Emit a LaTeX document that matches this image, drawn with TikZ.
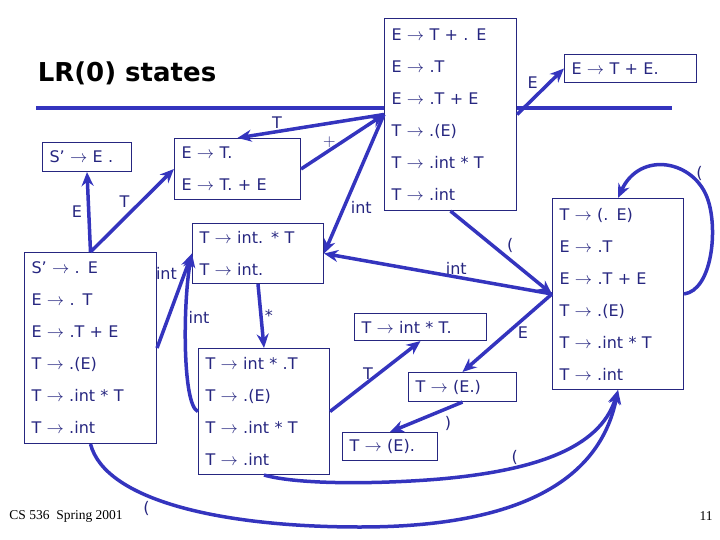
\documentclass[tikz,border=0pt]{standalone}
\usepackage{xcolor}
\usepackage{fontspec}
\usepackage{tikz}
\usetikzlibrary{arrows.meta, positioning}
\setmainfont{DejaVu Sans}
\newfontfamily\slidefoot{Liberation Serif}
\definecolor{myblue}{RGB}{52,52,190}
\definecolor{mynavy}{RGB}{38,38,128}
\newcommand{\yields}{$\rightarrow$}
\tikzset{
  state/.style={rectangle, draw=mynavy, text=mynavy, align=left,
    inner xsep=7pt, inner ysep=0pt, line width=1.1pt,
    font=\fontsize{16}{32}\selectfont},
  lbl/.style={text=mynavy, inner sep=1pt, font=\fontsize{16}{19}\selectfont},
  arrow/.style={-{Stealth[length=14pt,width=12pt]}, line width=3.5pt, color=myblue},
  rule/.style={line width=4pt, color=myblue}
}

\begin{document}
\begin{tikzpicture}[x=1pt, y=-1pt]
  \useasboundingbox (0,0) rectangle (720,540);

  % Title and rule under it
  \node[font=\fontsize{26}{30}\selectfont\bfseries] (title) at (127,73) {LR(0) states};
  \draw[rule] (36,108) -- (384,108);
  \draw[rule] (517,108) -- (672,108);

  % States
  \node[state, text width=118pt, minimum height=192pt] (tc) at (450.5,114.5)
    {E \yields{} T + . E\\ E \yields{} .T\\ E \yields{} .T + E\\ T \yields{} .(E)\\ T \yields{} .int * T\\ T \yields{} .int};
  \node[state, text width=118pt, minimum height=28pt] (ett) at (630.5,68.5) {E \yields{} T + E.};
  \node[state, text width=75pt, minimum height=29pt] (sacc) at (87,157) {S’ \yields{} E .};
  \node[state, text width=112pt, minimum height=61pt] (et) at (237.5,169) {E \yields{} T.\\ E \yields{} T. + E};
  \node[state, text width=117pt, minimum height=60pt] (ia) at (258,253.5) {T \yields{} int. * T\\ T \yields{} int.};
  \node[state, text width=118pt, minimum height=191pt] (st) at (90.5,348)
    {S’ \yields{} . E\\ E \yields{} . T\\ E \yields{} .T + E\\ T \yields{} .(E)\\ T \yields{} .int * T\\ T \yields{} .int};
  \node[state, text width=117pt, minimum height=126pt] (ib) at (264,411.5)
    {T \yields{} int * .T\\ T \yields{} .(E)\\ T \yields{} .int * T\\ T \yields{} .int};
  \node[state, text width=118pt, minimum height=27pt] (ic) at (420.5,327) {T \yields{} int * T.};
  \node[state, text width=94pt, minimum height=29pt] (pb) at (462.5,387) {T \yields{} (E.)};
  \node[state, text width=81pt, minimum height=28pt] (pc) at (390,446.5) {T \yields{} (E).};
  \node[state, text width=117pt, minimum height=191pt] (pa) at (618,294)
    {T \yields{} (. E)\\ E \yields{} .T\\ E \yields{} .T + E\\ T \yields{} .(E)\\ T \yields{} .int * T\\ T \yields{} .int};

  % Transitions
  \draw[arrow] (st.north) -- node[lbl, left=4pt] {E} (sacc.south);
  \draw[arrow] (st.north) -- node[lbl, above left=0pt] {T} (et.west);
  \draw[arrow] (tc.west) -- node[lbl, pos=0.73, above] {T} (et.north);
  \draw[arrow] (et.east) -- node[lbl, pos=0.34, above] {$+$} (tc.west);
  \draw[arrow] (tc.west) -- node[lbl, pos=0.665, right=4pt] {int} (ia.east);
  \draw[arrow] (tc.east) -- node[lbl, above left=0pt] {E} (ett.west);
  \draw[arrow] (pa.west) -- node[lbl, pos=0.42, above] {int} (ia.east);
  \draw[arrow] (tc.south) -- node[lbl, pos=0.53, above right=0pt] {(} (pa.west);
  \draw[arrow] (pa.west) -- node[lbl, right=8pt] {E} (pb.north);
  \draw[arrow] (pb.south) -- node[lbl, pos=0.2, below=6pt] {)} (pc.north);
  \draw[arrow] (st.east) -- node[lbl, pos=0.79, left=5pt] {int} (ia.west);
  \draw[arrow] (ib.west) .. controls (182,405) and (183,300) .. (ia.west)
    node[lbl, pos=0.65, right] {int};
  \draw[arrow] (ia.south) -- node[lbl, right=1pt] {*} (ib.north);
  \draw[arrow] (ib.east) -- node[lbl, pos=0.42, above] {T} (ic.south);

  % Loops on ( back into the ( state
  \draw[arrow] (pa.east) .. controls (712,290) and (718,230) .. (708,200)
    .. controls (695,160) and (640,150) .. (pa.north) node[lbl, pos=0.15, above=1pt] {(};
  \draw[arrow] (ib.south) .. controls (300,485) and (380,484) .. (440,479)
    .. controls (530,471) and (600,450) .. (pa.south) node[lbl, pos=0.3, above] {(};
  \draw[arrow] (st.south) .. controls (105,500) and (220,527) .. (360,527)
    node[lbl, pos=0.38, below=3pt] {(}
    .. controls (520,527) and (600,480) .. (pa.south);

  % Footer
  \node[font=\slidefoot\fontsize{13.5}{16}\selectfont] (foot) at (66,516) {CS 536\ \ Spring 2001};
  \node[font=\slidefoot\fontsize{13.5}{16}\selectfont] (page) at (706,516) {11};
\end{tikzpicture}
\end{document}
